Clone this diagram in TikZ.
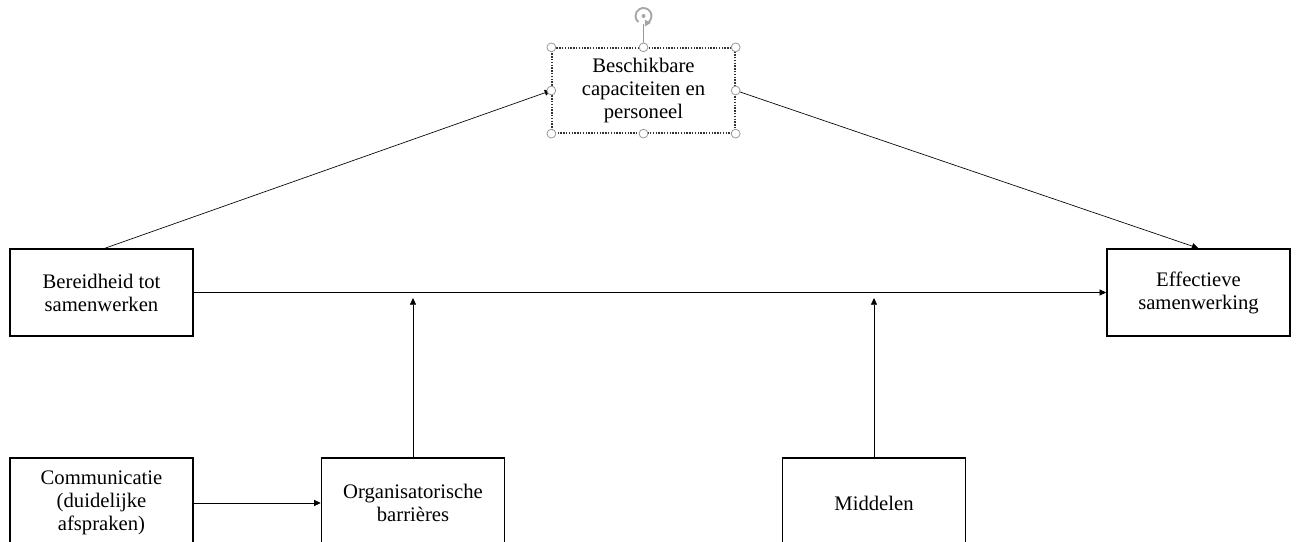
\documentclass[tikz,border=0pt]{standalone}
\usepackage{fontspec}
\setmainfont{Liberation Serif}
\usetikzlibrary{arrows.meta}
\begin{document}
\begin{tikzpicture}[x=0.75pt,y=-0.75pt,
  box/.style={draw=black, line width=1.1pt, minimum width=137.25pt, align=center,
    font=\fontsize{15.5}{17.25}\selectfont, inner sep=0pt},
  arr/.style={-{Triangle[length=5pt,width=4.5pt]}, line width=0.5pt},
  handle/.style={draw=gray!80, fill=white, line width=0.6pt}]
\useasboundingbox (0,0) rectangle (1297,542);
\clip (0,0) rectangle (1297,542);
% nodes
\node[box, minimum height=63.75pt, draw=black!80, densely dotted, line width=1pt] (cap) at (643.5,90.5) {Beschikbare\\capaciteiten en\\personeel};
\node[box, minimum height=65.25pt] (ber) at (101.5,292.5) {Bereidheid tot\\samenwerken};
\node[box, minimum height=65.25pt] (eff) at (1198.5,292.5) {Effectieve\\samenwerking};
\node[box, minimum height=67.5pt] (com) at (101.5,503) {Communicatie\\(duidelijke\\afspraken)};
\node[box, minimum height=67.5pt] (org) at (413,503) {Organisatorische\\barrières};
\node[box, minimum height=67.5pt] (mid) at (874,503) {Middelen};
\coordinate (orgtip) at (413,298);
\coordinate (midtip) at (874,298);
% connectors
\draw[arr] ([xshift=2.5pt]ber.north) -- (cap.west);
\draw[arr] (cap.east) -- (eff.north);
\draw[arr] (ber.east) -- (eff.west);
\draw[arr] (com.east) -- (org.west);
\draw[arr] (org.north) -- (orgtip);
\draw[arr] (mid.north) -- (midtip);
% selection handles
\coordinate (rot) at (643.5,16);
\draw[gray!80, line width=0.6pt] (cap.north) -- (643.5,24);
\draw[gray!70, line width=1.4pt] (rot) ++(-60:6pt) arc[start angle=-60, end angle=230, radius=6pt];
\fill[gray!70] (rot) ++(-60:6pt) ++(0:2.6pt) -- ++(-150:5.2pt) -- ++(90:5pt) -- cycle;
\fill[gray!70] (rot) circle[radius=1.5pt];
\foreach \a in {north west,north,north east,west,east,south west,south,south east}
  \draw[handle] (cap.\a) circle[radius=3.3pt];
\end{tikzpicture}
\end{document}
